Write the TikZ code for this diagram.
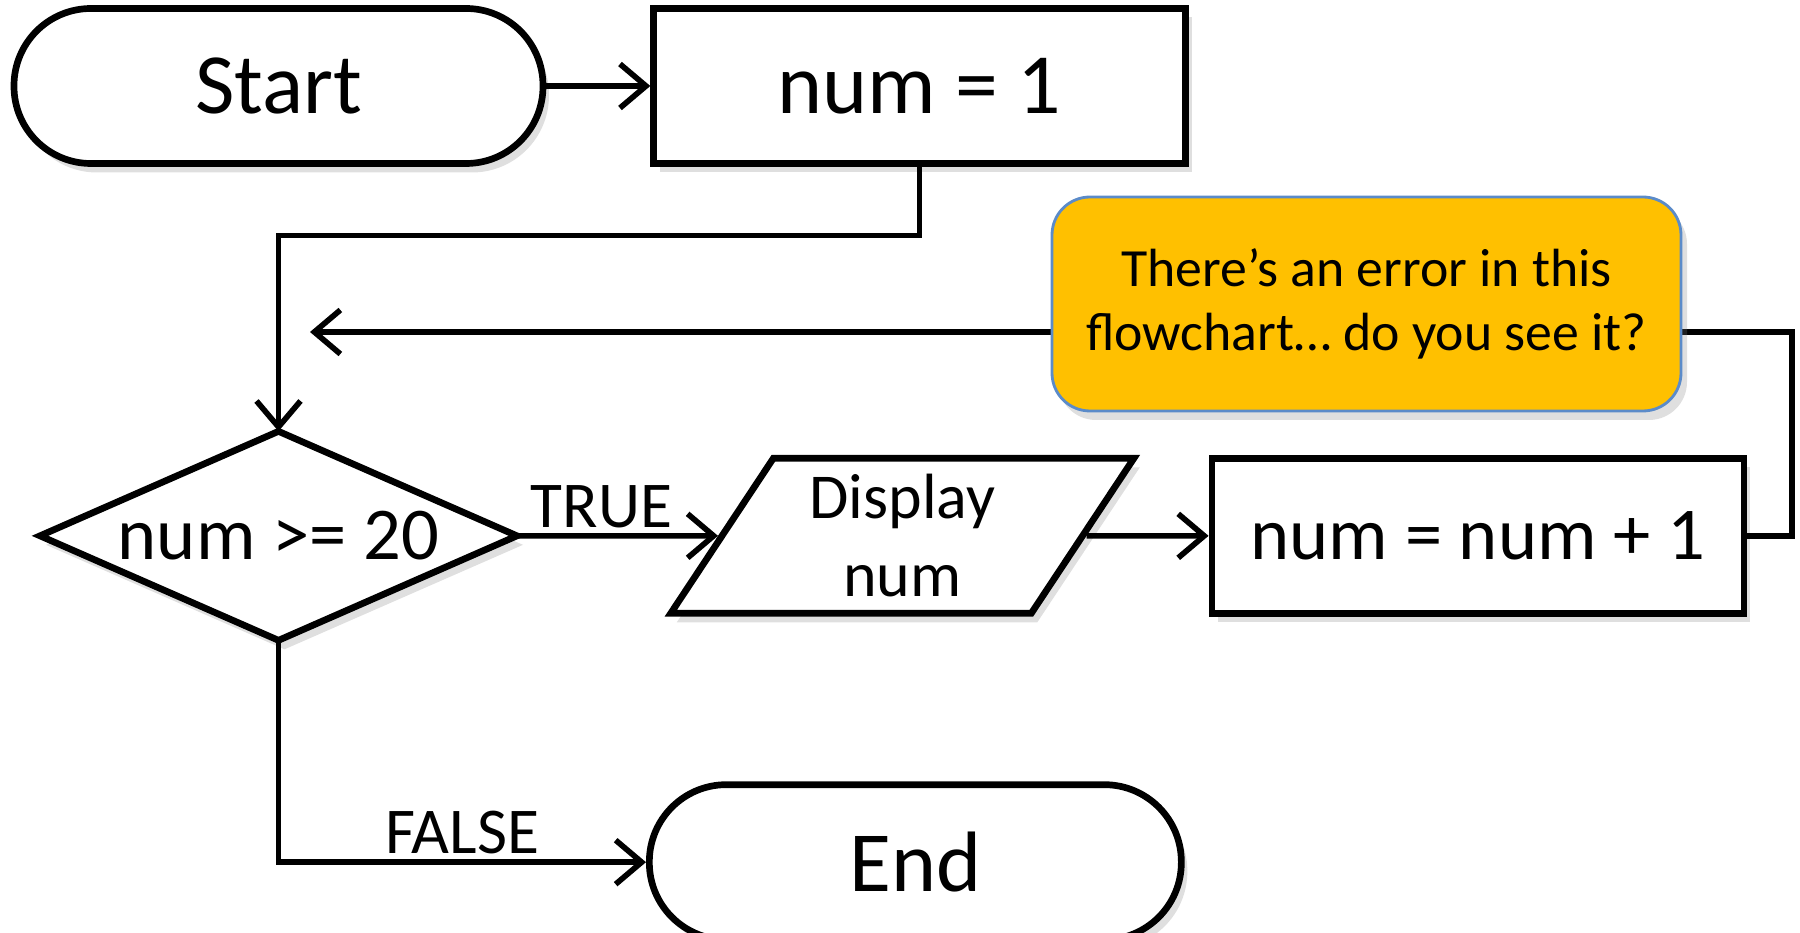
\documentclass[tikz,border=0pt]{standalone}
\usepackage{fontspec}
\setmainfont{Carlito}
\usetikzlibrary{positioning,arrows.meta,shapes.geometric,shadows}

\definecolor{notefill}{HTML}{FFC000}
\definecolor{noteline}{HTML}{5B8BC9}

\tikzset{
  soft/.style={drop shadow={shadow xshift=0.6mm,shadow yshift=-0.9mm,opacity=0.25}},
  bigtext/.style={font=\fontsize{24.4}{29}\selectfont},
  midtext/.style={font=\fontsize{21.2}{25}\selectfont},
  lbl/.style={font=\fontsize{18.6}{22}\selectfont,inner sep=1.5pt},
  block/.style={draw,line width=1.9pt,fill=white,soft,inner sep=0pt,
    minimum width=5.32cm,minimum height=1.55cm},
  terminal/.style={block,rounded corners=7.7mm},
  decision/.style={diamond,draw,line width=1.9pt,fill=white,soft,inner sep=0pt,
    outer sep=0pt,shape aspect=2.3,minimum width=4.77cm,minimum height=2.09cm,midtext},
  io/.style={trapezium,trapezium left angle=59,trapezium right angle=121,
    trapezium stretches=true,draw,line width=1.9pt,fill=white,soft,inner sep=0pt,
    minimum width=4.65cm,minimum height=1.55cm,align=center,
    font=\fontsize{18.2}{22.2}\selectfont},
  note/.style={draw=noteline,fill=notefill,line width=0.8pt,rounded corners=3.8mm,
    soft,minimum width=6.29cm,minimum height=2.14cm,align=center,
    font=\fontsize{15.3}{18.4}\selectfont},
  flow/.style={line width=1.6pt,-{Straight Barb[length=2.6mm,width=4.4mm]}}
}

\begin{document}
\begin{tikzpicture}
  \useasboundingbox (0,0) rectangle (18,-9.33);

  % Start and first assignment
  \node [terminal,bigtext,minimum width=5.29cm] (start) at (2.785,-0.86) {Start};
  \node [block,bigtext,right=1.04cm of start] (init) {num = 1};
  \draw [flow] (start) -- (init);

  % Loop test
  \node [decision,below=2.645cm of start] (test) {\makebox[2.6cm]{num >= 20}};
  \coordinate [below=0.685cm of init.south] (j1);
  \draw [flow] (init.south) -- (j1) -| (test.north);

  % Loop body
  \node [io,right=2.01cm of test] (show) {Display\\num};
  \node [block,midtext,right=1.22cm of show] (incr) {num = num + 1};
  \draw [flow] (test) -- node [lbl,above,pos=0.42] {TRUE} (show);
  \draw [flow] (show) -- (incr);

  % Back edge
  \coordinate [right=0.45cm of incr.east] (turn);
  \coordinate (back) at (3.10,-3.32);
  \draw [flow] (incr.east) -- (turn) |- (back);

  % Exit
  \node [terminal,bigtext,below right=1.41cm and 3.675cm of test.south] (stop) {End};
  \draw [flow] (test.south) |- node [lbl,above,pos=0.75] {FALSE} (stop.west);

  % Note
  \node [note] (hint) at (13.665,-3.04) {There’s an error in this\\flowchart… do you see it?};
\end{tikzpicture}
\end{document}
